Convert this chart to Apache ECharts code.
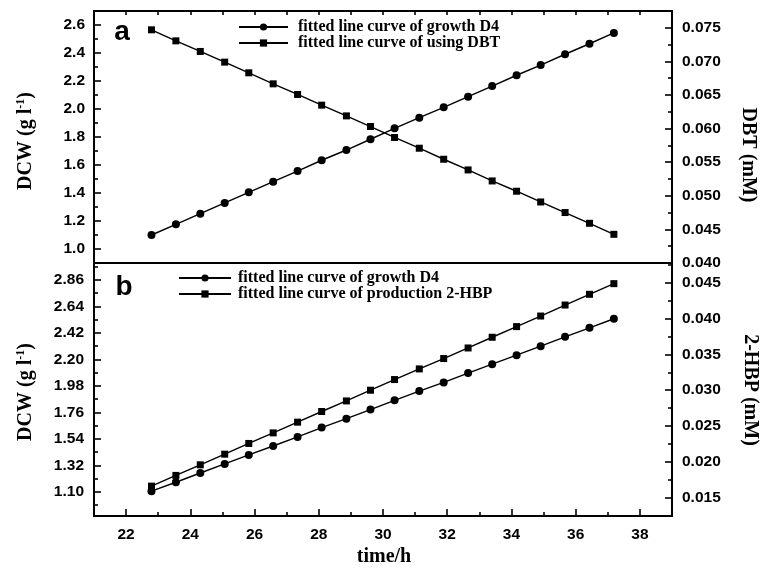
<!DOCTYPE html>
<html>
<head>
<meta charset="utf-8">
<script src="https://cdn.jsdelivr.net/npm/echarts@6/dist/echarts.min.js"></script>
<style>
html,body{margin:0;padding:0;background:#fff;}
#chart{width:762px;height:568px;}
</style>
</head>
<body>
<div id="chart"></div>
<script>
// ---- data ----
const timeH = [22.79, 23.55, 24.31, 25.07, 25.82, 26.58, 27.34, 28.09, 28.86, 29.61,
               30.36, 31.13, 31.89, 32.65, 33.40, 34.16, 34.91, 35.67, 36.43, 37.19];
const growthTop = [1.100, 1.176, 1.252, 1.329, 1.405, 1.481, 1.557, 1.634, 1.707, 1.784,
                   1.862, 1.938, 2.012, 2.088, 2.164, 2.241, 2.314, 2.391, 2.466, 2.543];
const dbt = [0.07470, 0.07306, 0.07148, 0.06989, 0.06830, 0.06666, 0.06508, 0.06349, 0.06189, 0.06031,
             0.05868, 0.05708, 0.05544, 0.05385, 0.05221, 0.05068, 0.04908, 0.04751, 0.04591, 0.04427];
const growthBottom = [1.106, 1.180, 1.257, 1.332, 1.407, 1.481, 1.556, 1.634, 1.708, 1.783,
                      1.860, 1.937, 2.009, 2.086, 2.160, 2.235, 2.310, 2.387, 2.462, 2.537];
const hbp = [0.01658, 0.01808, 0.01956, 0.02105, 0.02255, 0.02403, 0.02553, 0.02702, 0.02850, 0.03000,
             0.03149, 0.03298, 0.03443, 0.03591, 0.03741, 0.03890, 0.04038, 0.04192, 0.04342, 0.04491];

// tick labels
const xTicks = [22, 24, 26, 28, 30, 32, 34, 36, 38];
const xMinor = [23, 25, 27, 29, 31, 33, 35, 37];
const xTopTicks = [22, 23, 24, 25, 26, 27, 28, 29, 30, 31, 32, 33, 34, 35, 36, 37, 38];
const topLeftTicks = [1.0, 1.2, 1.4, 1.6, 1.8, 2.0, 2.2, 2.4, 2.6];
const topLeftMinor = [1.1, 1.3, 1.5, 1.7, 1.9, 2.1, 2.3, 2.5];
const topRightTicks = [0.040, 0.045, 0.050, 0.055, 0.060, 0.065, 0.070, 0.075];
const topRightMinor = [0.0425, 0.0475, 0.0525, 0.0575, 0.0625, 0.0675, 0.0725];
const botLeftTicks = [1.10, 1.32, 1.54, 1.76, 1.98, 2.20, 2.42, 2.64, 2.86];
const botLeftMinor = [0.99, 1.21, 1.43, 1.65, 1.87, 2.09, 2.31, 2.53, 2.75, 2.97];
const botRightTicks = [0.015, 0.020, 0.025, 0.030, 0.035, 0.040, 0.045];
const botRightMinor = [0.0175, 0.0225, 0.0275, 0.0325, 0.0375, 0.0425, 0.0475];

const nameGrowth = 'fitted line curve of growth D4';
const nameDBT = 'fitted line curve of using DBT';
const nameHBP = 'fitted line curve of production 2-HBP';

const SANS = '"Liberation Sans", Arial, sans-serif';
const SERIF = '"Liberation Serif", "Times New Roman", serif';

const pairs = (xs, ys) => xs.map((x, i) => [x, ys[i]]);

const tickLabel = {fontFamily: SANS, fontWeight: 'bold', fontSize: 15.5, color: '#000'};

function mainAxis(extra, labels, fmt, margin) {
  return Object.assign({
    type: 'value',
    axisLine: {show: false},
    splitLine: {show: false},
    axisTick: {show: true, inside: true, length: 7, customValues: labels, lineStyle: {color: '#000', width: 1.6}},
    axisLabel: Object.assign({show: true, customValues: labels, formatter: fmt, margin: margin}, tickLabel)
  }, extra);
}
function minorAxis(extra, vals) {
  return Object.assign({
    type: 'value',
    axisLine: {show: false},
    splitLine: {show: false},
    axisTick: {show: true, inside: true, length: 4, customValues: vals, lineStyle: {color: '#000', width: 1.6}},
    axisLabel: {show: false}
  }, extra);
}

const chart = echarts.init(document.getElementById('chart'), null, {renderer: 'canvas'});

const lineStyle = {color: '#000', width: 1.4};

chart.setOption({
  animation: false,
  backgroundColor: '#fff',
  grid: [
    {left: 94, right: 90, top: 11, height: 252, show: true, borderColor: '#000', borderWidth: 2, backgroundColor: 'transparent'},
    {left: 94, right: 90, top: 263, height: 253, show: true, borderColor: '#000', borderWidth: 2, backgroundColor: 'transparent'}
  ],
  xAxis: [
    {type: 'value', gridIndex: 0, min: 21, max: 39, position: 'bottom',
     axisLine: {show: false}, axisTick: {show: false}, axisLabel: {show: false}, splitLine: {show: false}},
    minorAxis({gridIndex: 0, min: 21, max: 39, position: 'top'}, xTopTicks),
    mainAxis({gridIndex: 1, min: 21, max: 39, position: 'bottom'}, xTicks, v => String(v), 11),
    minorAxis({gridIndex: 1, min: 21, max: 39, position: 'bottom'}, xMinor)
  ],
  yAxis: [
    mainAxis({gridIndex: 0, min: 0.9, max: 2.7, position: 'left'}, topLeftTicks, v => v.toFixed(1), 9),
    minorAxis({gridIndex: 0, min: 0.9, max: 2.7, position: 'left'}, topLeftMinor),
    mainAxis({gridIndex: 0, min: 0.040, max: 0.0775, position: 'right'}, topRightTicks, v => v.toFixed(3), 10),
    minorAxis({gridIndex: 0, min: 0.040, max: 0.0775, position: 'right'}, topRightMinor),
    mainAxis({gridIndex: 1, min: 0.9, max: 3.0, position: 'left'}, botLeftTicks, v => v.toFixed(2), 10),
    minorAxis({gridIndex: 1, min: 0.9, max: 3.0, position: 'left'}, botLeftMinor),
    mainAxis({gridIndex: 1, min: 0.0124, max: 0.0478, position: 'right'}, botRightTicks, v => v.toFixed(3), 10),
    minorAxis({gridIndex: 1, min: 0.0124, max: 0.0478, position: 'right'}, botRightMinor)
  ],
  legend: [
    {orient: 'vertical', left: 238, top: 19, padding: 0, itemWidth: 49, itemHeight: 9, itemGap: 0,
     data: [nameGrowth, nameDBT],
     textStyle: {fontFamily: SERIF, fontWeight: 'bold', fontSize: 16, color: '#000', lineHeight: 16, padding: [0, 0, 0, 5]}},
    {orient: 'vertical', left: 178, top: 270, padding: 0, itemWidth: 52, itemHeight: 9, itemGap: 0,
     data: [nameGrowth, nameHBP],
     textStyle: {fontFamily: SERIF, fontWeight: 'bold', fontSize: 16, color: '#000', lineHeight: 16, padding: [0, 0, 0, 2]}}
  ],
  series: [
    {name: nameGrowth, type: 'line', xAxisIndex: 0, yAxisIndex: 0, data: pairs(timeH, growthTop),
     symbol: 'circle', symbolSize: 8, showAllSymbol: true, lineStyle: lineStyle, itemStyle: {color: '#000'}},
    {name: nameDBT, type: 'line', xAxisIndex: 0, yAxisIndex: 2, data: pairs(timeH, dbt),
     symbol: 'rect', symbolSize: 7, showAllSymbol: true, lineStyle: lineStyle, itemStyle: {color: '#000'}},
    {name: nameGrowth, type: 'line', xAxisIndex: 2, yAxisIndex: 4, data: pairs(timeH, growthBottom),
     symbol: 'circle', symbolSize: 8, showAllSymbol: true, lineStyle: lineStyle, itemStyle: {color: '#000'}},
    {name: nameHBP, type: 'line', xAxisIndex: 2, yAxisIndex: 6, data: pairs(timeH, hbp),
     symbol: 'rect', symbolSize: 7, showAllSymbol: true, lineStyle: lineStyle, itemStyle: {color: '#000'}}
  ],
  graphic: [
    {type: 'text', x: 122, y: 32, style: {text: 'a', font: 'bold 28px ' + SANS, fill: '#000', textAlign: 'center', textVerticalAlign: 'middle'}},
    {type: 'text', x: 124, y: 287, style: {text: 'b', font: 'bold 28px ' + SANS, fill: '#000', textAlign: 'center', textVerticalAlign: 'middle'}},
    {type: 'text', x: 26, y: 141, rotation: Math.PI / 2,
     style: {text: '{n|DCW (g l}{s|-1}{n|)}', textAlign: 'center', textVerticalAlign: 'middle', fill: '#000',
       rich: {n: {font: 'bold 20px ' + SERIF, lineHeight: 22}, s: {font: 'bold 12px ' + SERIF, lineHeight: 12, verticalAlign: 'top'}}}},
    {type: 'text', x: 26, y: 392, rotation: Math.PI / 2,
     style: {text: '{n|DCW (g l}{s|-1}{n|)}', textAlign: 'center', textVerticalAlign: 'middle', fill: '#000',
       rich: {n: {font: 'bold 20px ' + SERIF, lineHeight: 22}, s: {font: 'bold 12px ' + SERIF, lineHeight: 12, verticalAlign: 'top'}}}},
    {type: 'text', x: 748, y: 155, rotation: -Math.PI / 2,
     style: {text: 'DBT (mM)', font: 'bold 20px ' + SERIF, fill: '#000', textAlign: 'center', textVerticalAlign: 'middle'}},
    {type: 'text', x: 750, y: 390, rotation: -Math.PI / 2,
     style: {text: '2-HBP (mM)', font: 'bold 20px ' + SERIF, fill: '#000', textAlign: 'center', textVerticalAlign: 'middle'}},
    {type: 'text', x: 384, y: 557,
     style: {text: 'time/h', font: 'bold 20px ' + SERIF, fill: '#000', textAlign: 'center', textVerticalAlign: 'middle'}}
  ]
});
</script>
</body>
</html>
